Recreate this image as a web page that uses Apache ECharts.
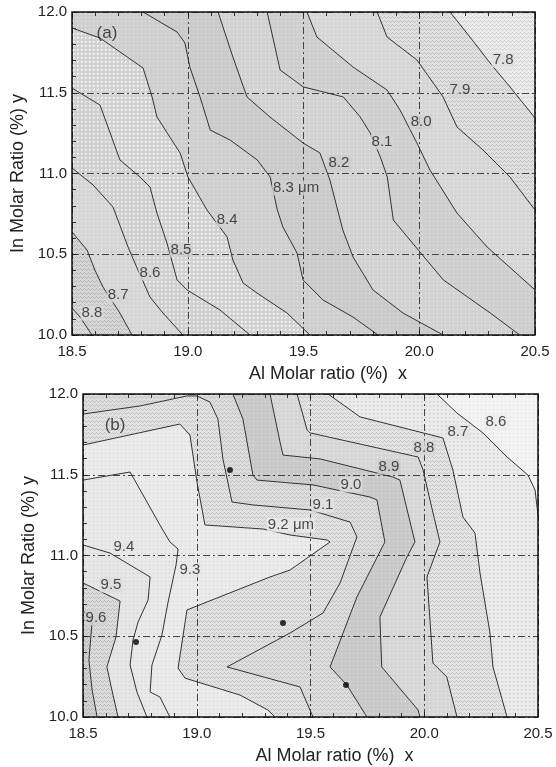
<!DOCTYPE html>
<html>
<head>
<meta charset="utf-8">
<script src="https://cdn.jsdelivr.net/npm/echarts@6/dist/echarts.min.js"></script>
<style>
  html, body { margin: 0; padding: 0; background: #fff; }
  #chart { width: 556px; height: 767px; }
</style>
</head>
<body>
<div id="chart"></div>
<script>
// axis ranges shared by both panels
const xRange = [18.5, 20.5];
const yRange = [10, 12];

// ---- panel (a) ----
const levelsA = [7.8, 7.9, 8.0, 8.1, 8.2, 8.3, 8.4, 8.5, 8.6, 8.7, 8.8];
const contoursA = [
  [[20.133, 12], [20.219, 11.845], [20.306, 11.684], [20.392, 11.536], [20.5, 11.344]],
  [[19.818, 12], [19.861, 11.845], [19.990, 11.703], [20.103, 11.474], [20.163, 11.288], [20.275, 11.146], [20.392, 10.978], [20.5, 10.774]],
  [[19.515, 12], [19.558, 11.845], [19.714, 11.659], [19.861, 11.517], [19.917, 11.393], [19.990, 11.189], [20.046, 11.022], [20.163, 10.755], [20.293, 10.545], [20.5, 10.279]],
  [[19.343, 12], [19.399, 11.641], [19.499, 11.536], [19.672, 11.474], [19.745, 11.350], [19.788, 11.251], [19.832, 11.102], [19.862, 10.978], [19.888, 10.712], [19.996, 10.526], [20.104, 10.341], [20.307, 10.136], [20.434, 10]],
  [[19.131, 12], [19.195, 11.721], [19.256, 11.474], [19.355, 11.350], [19.498, 11.189], [19.571, 11.127], [19.614, 10.960], [19.644, 10.793], [19.670, 10.650], [19.714, 10.483], [19.800, 10.279], [19.930, 10.136], [20.103, 10]],
  [[18.807, 12], [18.954, 11.876], [18.988, 11.808], [19.009, 11.659], [19.053, 11.474], [19.097, 11.269], [19.183, 11.207], [19.300, 11.084], [19.356, 10.978], [19.387, 10.774], [19.411, 10.669], [19.472, 10.508], [19.498, 10.341], [19.584, 10.217], [19.714, 10.111], [19.822, 10]],
  [[18.5, 11.901], [18.621, 11.839], [18.807, 11.653], [18.846, 11.474], [18.867, 11.350], [18.967, 11.127], [19.001, 10.978], [19.083, 10.774], [19.170, 10.607], [19.195, 10.464], [19.239, 10.322], [19.299, 10.260], [19.429, 10.136], [19.528, 10]],
  [[18.5, 11.529], [18.621, 11.424], [18.707, 11.084], [18.794, 10.978], [18.837, 10.916], [18.867, 10.755], [18.910, 10.570], [18.954, 10.341], [18.997, 10.279], [19.139, 10.155], [19.269, 10]],
  [[18.5, 11.034], [18.591, 10.929], [18.677, 10.793], [18.742, 10.545], [18.785, 10.402], [18.837, 10.235], [18.893, 10.136], [18.979, 10]],
  [[18.5, 10.638], [18.565, 10.526], [18.599, 10.402], [18.634, 10.297], [18.707, 10.136], [18.759, 10]],
  [[18.5, 10.167], [18.535, 10.111], [18.586, 10]]
];
const labelTextA = ['7.8', '7.9', '8.0', '8.1', '8.2', '8.3 μm', '8.4', '8.5', '8.6', '8.7', '8.8'];
const labelPosA = [[20.362, 11.703], [20.176, 11.517], [20.008, 11.319], [19.839, 11.195], [19.653, 11.065], [19.468, 10.910], [19.170, 10.712], [18.971, 10.526], [18.837, 10.384], [18.699, 10.248], [18.586, 10.136]];
const tagA = ['(a)', [18.651, 11.870]];

// ---- panel (b) ----
const levelsB = [8.6, 8.7, 8.8, 8.9, 9.0, 9.1, 9.2, 9.3, 9.4, 9.5, 9.6];
const contoursB = [
  [[20.056, 12], [20.144, 11.882], [20.258, 11.759], [20.364, 11.610], [20.456, 11.498], [20.487, 11.406], [20.5, 11.251]],
  [[19.577, 12], [19.718, 11.858], [20.082, 11.728], [20.126, 11.529], [20.170, 11.238], [20.223, 11.139], [20.245, 10.892], [20.289, 10.520], [20.302, 10.310], [20.364, 10]],
  [[19.441, 12], [19.485, 11.777], [19.498, 11.759], [19.973, 11.610], [19.995, 11.529], [20.025, 11.344], [20.069, 11.084], [20.012, 10.867], [20.025, 10.601], [20.038, 10.334], [20.099, 10.248], [20.144, 10]],
  [[19.322, 12], [19.366, 11.703], [19.379, 11.622], [19.542, 11.598], [19.862, 11.486], [19.893, 11.467], [19.959, 11.084], [19.924, 10.991], [19.805, 10.619], [19.813, 10.310], [19.973, 10.043], [19.981, 10]],
  [[19.159, 12], [19.203, 11.845], [19.247, 11.498], [19.265, 11.467], [19.511, 11.437], [19.762, 11.362], [19.792, 11.344], [19.827, 11.084], [19.704, 10.743], [19.586, 10.310], [19.660, 10.198], [19.748, 10]],
  [[18.5, 11.876], [18.751, 11.926], [18.957, 11.988], [19.001, 11.988], [19.058, 11.950], [19.093, 11.845], [19.115, 11.598], [19.155, 11.331], [19.247, 11.313], [19.498, 11.282], [19.674, 11.207], [19.704, 11.115], [19.630, 10.830], [19.555, 10.644], [19.410, 10.520], [19.133, 10.310], [19.454, 10.186], [19.511, 10]],
  [[18.5, 11.684], [18.926, 11.814], [18.970, 11.746], [19.001, 11.455], [19.036, 11.189], [19.291, 11.164], [19.410, 11.127], [19.573, 11.096], [19.586, 11.084], [19.410, 10.910], [19.322, 10.867], [18.957, 10.663], [18.918, 10.303], [18.948, 10.241], [19.190, 10.136], [19.313, 10.043], [19.344, 10]],
  [[18.5, 11.467], [18.707, 11.517], [18.838, 11.189], [18.882, 11.084], [18.918, 11.040], [18.909, 10.941], [18.874, 10.712], [18.847, 10.508], [18.803, 10.322], [18.795, 10.155], [18.838, 10.124], [18.882, 10]],
  [[18.5, 11.065], [18.619, 11.015], [18.795, 10.867], [18.786, 10.724], [18.742, 10.588], [18.720, 10.477], [18.707, 10.322], [18.737, 10.155], [18.781, 10]],
  [[18.5, 10.830], [18.663, 10.718], [18.645, 10.495], [18.605, 10.310], [18.627, 10.167], [18.654, 10]],
  [[18.5, 10.663], [18.540, 10.588], [18.526, 10.353], [18.540, 10.167], [18.562, 10]]
];
const labelTextB = ['8.6', '8.7', '8.8', '8.9', '9.0', '9.1', '9.2 μm', '9.3', '9.4', '9.5', '9.6'];
const labelPosB = [[20.315, 11.827], [20.148, 11.765], [19.999, 11.666], [19.845, 11.548], [19.678, 11.437], [19.555, 11.313], [19.414, 11.189], [18.970, 10.910], [18.680, 11.053], [18.623, 10.817], [18.557, 10.613]];
const tagB = ['(b)', [18.641, 11.808]];
const dotsB = [[19.146, 11.53], [18.733, 10.464], [19.379, 10.582], [19.656, 10.198]];

// region fills: [base grey, texture, texture colour], low side of first contour -> high side of last
const fillsA = [
  ['#ececec', 'cross', '#d0d0d0'], ['#e0e0e0', 'cross', '#c2c2c2'], ['#d6d6d6', 'dots', '#f4f4f4'],
  ['#cfcfcf', 'dots', '#e6e6e6'], ['#d2d2d2', 'dots', '#f2f2f2'], ['#cbcbcb', 'dots', '#e2e2e2'],
  ['#cfcfcf', 'dots', '#ededed'], ['#d2d2d2', 'grid', '#f6f6f6'], ['#d0d0d0', 'grid', '#f0f0f0'],
  ['#d6d6d6', 'dots', '#f2f2f2'], ['#d6d6d6', 'cross', '#b8b8b8'], ['#dcdcdc', 'cross', '#bdbdbd']
];
const fillsB = [
  ['#f3f3f3', 'dots', '#dddddd'], ['#ebebeb', 'grid', '#d6d6d6'], ['#e4e4e4', 'cross', '#c6c6c6'],
  ['#d6d6d6', 'dots', '#f2f2f2'], ['#c9c9c9', 'dots', '#e6e6e6'], ['#dddddd', 'cross', '#c2c2c2'],
  ['#e2e2e2', 'cross', '#c4c4c4'], ['#ebebeb', 'dots', '#cdcdcd'], ['#e9e9e9', 'dots', '#cbcbcb'],
  ['#e6e6e6', 'dots', '#c9c9c9'], ['#dcdcdc', 'cross', '#bcbcbc'], ['#d2d2d2', 'cross', '#b4b4b4']
];

const font = 'Liberation Sans, Arial, sans-serif';

// small repeating textures like the printed shading
function texture(base, kind, ink) {
  const n = 4;
  const cv = document.createElement('canvas');
  cv.width = n; cv.height = n;
  const ctx = cv.getContext('2d');
  ctx.fillStyle = base;
  ctx.fillRect(0, 0, n, n);
  ctx.fillStyle = ink;
  if (kind === 'dots') {
    ctx.fillRect(1, 1, 1, 1);
  } else if (kind === 'grid') {
    ctx.fillRect(1, 1, 2, 1);
    ctx.fillRect(1, 2, 1, 1);
  } else {
    ctx.fillRect(0, 0, 1, 1);
    ctx.fillRect(2, 2, 1, 1);
    ctx.fillRect(1, 1, 1, 1);
    ctx.fillRect(3, 1, 1, 1);
  }
  return { image: cv, repeat: 'repeat' };
}

// position of a boundary point along the frame, counter-clockwise from the lower-left corner
function edgePos(p) {
  const W = xRange[1] - xRange[0], H = yRange[1] - yRange[0];
  const d = [Math.abs(p[1] - yRange[0]), Math.abs(p[0] - xRange[1]), Math.abs(p[1] - yRange[1]), Math.abs(p[0] - xRange[0])];
  const k = d.indexOf(Math.min(...d));
  return [p[0] - xRange[0], W + p[1] - yRange[0], W + H + xRange[1] - p[0], 2 * W + H + yRange[1] - p[1]][k];
}

// close a contour along the frame (clockwise) so it covers its high side
function highSide(line) {
  const W = xRange[1] - xRange[0], H = yRange[1] - yRange[0], P = 2 * (W + H);
  const corners = [[xRange[0], yRange[0]], [xRange[1], yRange[0]], [xRange[1], yRange[1]], [xRange[0], yRange[1]]];
  const cs = [0, W, W + H, 2 * W + H];
  const se = edgePos(line[line.length - 1]), ss = edgePos(line[0]);
  const span = (se - ss + P) % P;
  const extra = corners
    .map((c, i) => ({ c, d: (se - cs[i] + P) % P }))
    .filter(o => o.d > 1e-9 && o.d < span)
    .sort((a, b) => a.d - b.d)
    .map(o => o.c);
  return line.concat(extra);
}

const frame = [[xRange[0], yRange[0]], [xRange[1], yRange[0]], [xRange[1], yRange[1]], [xRange[0], yRange[1]]];

function panelSeries(idx, contours, fills, labelPos, labelText, tag) {
  const regions = [frame].concat(contours.map(highSide));
  const paints = fills.map(f => texture(f[0], f[1], f[2]));
  const list = [];
  list.push({
    type: 'custom', xAxisIndex: idx * 2, yAxisIndex: idx, z: 1, silent: true,
    data: regions.map((_, i) => [19.5, 11, i]),
    renderItem: (params, api) => {
      const i = api.value(2);
      return {
        type: 'polygon',
        shape: { points: regions[i].map(p => api.coord(p)) },
        style: { fill: paints[i], stroke: null }
      };
    }
  });
  contours.forEach(c => {
    list.push({
      type: 'line', xAxisIndex: idx * 2, yAxisIndex: idx, z: 5, silent: true,
      data: c, symbol: 'none', smooth: false,
      lineStyle: { color: '#333', width: 1 }
    });
  });
  list.push({
    type: 'scatter', xAxisIndex: idx * 2, yAxisIndex: idx, z: 7, silent: true,
    symbolSize: 1, itemStyle: { color: 'transparent' },
    data: labelPos.map((p, i) => ({
      value: p, name: labelText[i],
      label: { backgroundColor: fills[i + 1][0] }
    })).concat([{ value: tag[1], name: tag[0], label: { fontSize: 17, backgroundColor: 'transparent' } }]),
    label: {
      show: true, position: 'inside', formatter: '{b}',
      fontSize: 15, color: '#222', fontFamily: font, padding: [0, 1]
    }
  });
  return list;
}

function xAxes(idx, nameShift) {
  return [{
    gridIndex: idx, type: 'value', min: xRange[0], max: xRange[1], interval: 0.5, position: 'bottom', z: 4,
    name: 'Al Molar ratio (%)  x', nameLocation: 'middle', nameGap: 30,
    nameTextStyle: { fontSize: 18, color: '#222', fontFamily: font, padding: [0, 0, 0, nameShift] },
    axisLine: { show: false },
    axisTick: { inside: true, length: 5, lineStyle: { color: '#222' } },
    minorTick: { show: true, splitNumber: 5, length: 4, lineStyle: { color: '#333' } },
    axisLabel: { formatter: v => v.toFixed(1), fontSize: 15, color: '#222', fontFamily: font, margin: 9 },
    splitLine: { show: true, lineStyle: { color: '#444', width: 1, type: [7, 3, 2, 3] } }
  }, {
    gridIndex: idx, type: 'value', min: xRange[0], max: xRange[1], interval: 0.5, position: 'top', z: 4,
    axisLine: { show: false },
    axisTick: { inside: true, length: 5, lineStyle: { color: '#222' } },
    minorTick: { show: true, splitNumber: 5, length: 4, lineStyle: { color: '#333' } },
    axisLabel: { show: false },
    splitLine: { show: false }
  }];
}

function yAxis(idx) {
  return {
    gridIndex: idx, type: 'value', min: yRange[0], max: yRange[1], interval: 0.5, z: 4,
    name: 'In Molar Ratio (%) y', nameLocation: 'middle', nameGap: 45,
    nameTextStyle: { fontSize: 18, color: '#222', fontFamily: font },
    axisLine: { show: false },
    axisTick: { inside: true, length: 5, lineStyle: { color: '#222' } },
    minorTick: { show: true, splitNumber: 5, length: 4, lineStyle: { color: '#333' } },
    axisLabel: { formatter: v => v.toFixed(1), fontSize: 15, color: '#222', fontFamily: font, margin: 5 },
    splitLine: { show: true, lineStyle: { color: '#444', width: 1, type: [7, 3, 2, 3] } }
  };
}

const chart = echarts.init(document.getElementById('chart'));
chart.setOption({
  animation: false,
  backgroundColor: '#fff',
  grid: [
    { left: 72, right: 21, top: 12, height: 323, show: true, z: 6, borderColor: '#111', borderWidth: 1.5, backgroundColor: 'transparent' },
    { left: 83, right: 18, top: 394, height: 323, show: true, z: 6, borderColor: '#111', borderWidth: 1.5, backgroundColor: 'transparent' }
  ],
  xAxis: xAxes(0, 49).concat(xAxes(1, 48)),
  yAxis: [yAxis(0), yAxis(1)],
  series: panelSeries(0, contoursA, fillsA, labelPosA, labelTextA, tagA)
    .concat(panelSeries(1, contoursB, fillsB, labelPosB, labelTextB, tagB))
    .concat([{
      type: 'scatter', xAxisIndex: 2, yAxisIndex: 1, z: 8, silent: true,
      symbolSize: 6, itemStyle: { color: '#000' },
      data: dotsB
    }])
});
</script>
</body>
</html>
